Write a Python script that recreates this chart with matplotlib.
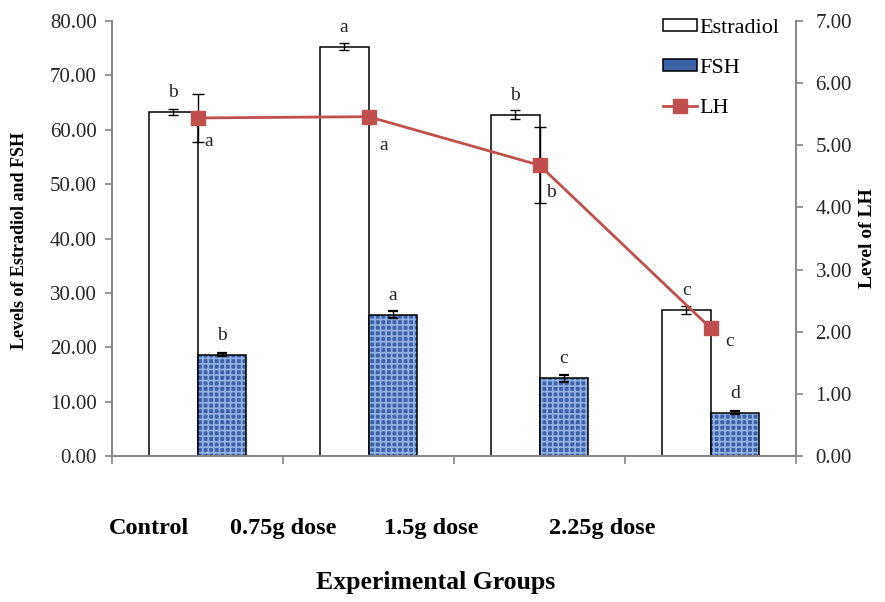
import matplotlib
matplotlib.use("Agg")
import matplotlib.pyplot as plt
import numpy as np
from matplotlib.patches import Patch
from matplotlib.lines import Line2D

# ---- data ----
groups = ["Control", "0.75g dose", "1.5g dose", "2.25g dose"]
estradiol = [63.3, 75.3, 62.8, 26.8]
estradiol_err = [0.6, 0.6, 0.8, 0.7]
estradiol_letters = ["b", "a", "b", "c"]
fsh = [18.6, 26.0, 14.3, 8.0]
fsh_err = [0.3, 0.6, 0.6, 0.3]
fsh_letters = ["b", "a", "c", "d"]
lh = [5.44, 5.46, 4.68, 2.06]
lh_err = [0.38, 0.03, 0.61, 0.03]
lh_letters = ["a", "a", "b", "c"]

# ---- style ----
plt.rcParams['font.family'] = ['Liberation Serif', 'DejaVu Serif']
plt.rcParams['hatch.linewidth'] = 1.2
W, H = 885, 602
fig = plt.figure(figsize=(W / 100, H / 100), dpi=100)
ax_l, ax_r, ax_b, ax_t = 112, 796, 456, 21
ax = fig.add_axes([ax_l / W, 1 - ax_b / H, (ax_r - ax_l) / W, (ax_b - ax_t) / H])
ax2 = ax.twinx()

grey = '#868686'
txtc = '#262626'
lhc = '#c0504d'
fsh_face = '#3d62a8'
fsh_hatch = '#93b2e4'
x = np.arange(1, len(groups) + 1)
bw = 0.285

# Estradiol bars
ax.bar(x - bw / 2, estradiol, bw, color='white', edgecolor='black', linewidth=1.1, zorder=2)
ax.errorbar(x - bw / 2, estradiol, yerr=estradiol_err, fmt='none', ecolor='black',
            elinewidth=1.0, capsize=3.5, capthick=1.0, zorder=3)
# FSH bars (textured)
ax.bar(x + bw / 2, fsh, bw, color=fsh_face, edgecolor=fsh_hatch, linewidth=0,
       hatch='+++', zorder=2)
ax.bar(x + bw / 2, fsh, bw, fill=False, edgecolor='black', linewidth=1.1, zorder=2.5)
ax.errorbar(x + bw / 2, fsh, yerr=fsh_err, fmt='none', ecolor='black',
            elinewidth=1.0, capsize=3.5, capthick=1.6, zorder=3)

for xi, v, t in zip(x - bw / 2, estradiol, estradiol_letters):
    ax.annotate(t, (xi, v), xytext=(0, 14), textcoords='offset points',
                ha='center', va='center', fontsize=14, color=txtc)
for xi, v, t in zip(x + bw / 2, fsh, fsh_letters):
    ax.annotate(t, (xi, v), xytext=(0, 14), textcoords='offset points',
                ha='center', va='center', fontsize=14, color=txtc)

# LH line
ax2.errorbar(x, lh, yerr=lh_err, fmt='none', ecolor='black', elinewidth=1.0,
             capsize=4, capthick=1.0, zorder=4)
ax2.plot(x, lh, color=lhc, linewidth=2.0, marker='s', markersize=9.5,
         markerfacecolor=lhc, markeredgecolor=lhc, zorder=5)
lh_label_offsets = [(8, -17), (11, -21), (8, -20), (14, -10)]
for xi, v, t, off in zip(x, lh, lh_letters, lh_label_offsets):
    ax2.annotate(t, (xi, v), xytext=off, textcoords='offset points',
                 ha='center', va='center', fontsize=14, color=txtc)

# axes
ax.set_xlim(0.5, len(groups) + 0.5)
ax.set_ylim(0, 80)
ax2.set_ylim(0, 7)
ax.set_yticks(np.arange(0, 81, 10))
ax.set_yticklabels([f"{v:.2f}" for v in np.arange(0, 81, 10)])
ax2.set_yticks(np.arange(0, 8, 1))
ax2.set_yticklabels([f"{v:.2f}" for v in np.arange(0, 8, 1)])
ax.set_xticks(np.arange(0.5, len(groups) + 1, 1))
ax.set_xticklabels([])
for a in (ax, ax2):
    a.spines['top'].set_visible(False)
    for s in ('left', 'right', 'bottom'):
        a.spines[s].set_color(grey)
        a.spines[s].set_linewidth(1.2)
    a.tick_params(axis='both', colors=grey, labelcolor=txtc, labelsize=15,
                  direction='out', length=5, width=1.2, pad=6)
ax2.tick_params(axis='y', pad=9)
ax.tick_params(axis='x', length=6)

# category labels and axis titles
label_cx = [148.5, 283.5, 431.5, 602.5]
for cx, g in zip(label_cx, groups):
    fig.text(cx / W, 1 - 534 / H, g, ha='center', va='baseline', fontsize=17.5,
             fontweight='bold', color='black')
fig.text(436 / W, 1 - 583 / H, "Experimental Groups", ha='center', va='center',
         fontsize=18.5, fontweight='bold', color='black')
fig.text(20 / W, 1 - 240 / H, "Levels of Estradiol and FSH", rotation=90,
         ha='center', va='center', fontsize=13, fontweight='bold', color='black')
fig.text(868 / W, 1 - 238 / H, "Level of LH", rotation=90,
         ha='center', va='center', fontsize=14, fontweight='bold', color='black')

# legend
handles = [Patch(facecolor='white', edgecolor='black', linewidth=1.1),
           Patch(facecolor=fsh_face, edgecolor='black', linewidth=1.1),
           Line2D([0], [0], color=lhc, linewidth=2.0, marker='s', markersize=9.5)]
fig.legend(handles, ["Estradiol", "FSH", "LH"], loc='upper left',
           bbox_to_anchor=(663 / W, 1 - 19 / H), frameon=False, fontsize=16,
           handlelength=1.55, handleheight=0.45, handletextpad=0.1,
           labelspacing=0.95, borderpad=0, borderaxespad=0)

fig.savefig("out.png", dpi=100)
